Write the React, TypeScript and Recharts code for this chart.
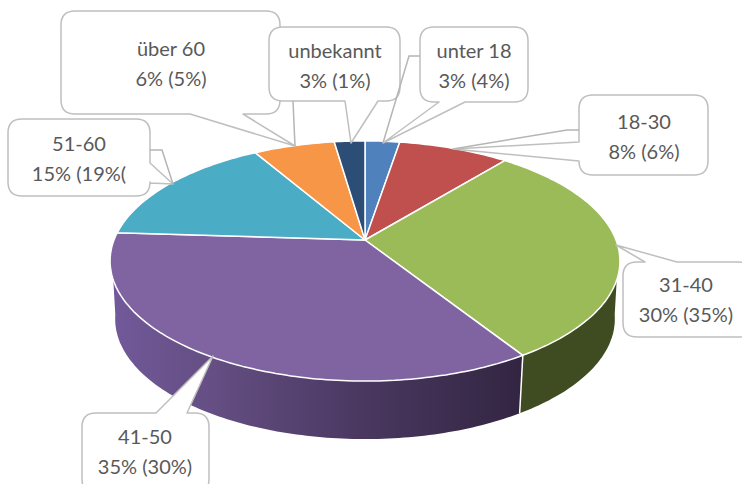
import { PieChart, Pie } from 'recharts'

const ageGroups = ['unter 18', '18-30', '31-40', '41-50', '51-60', 'über 60', 'unbekannt']
const shares = [2.6, 8.3, 30.1, 35, 15.6, 6.1, 2.3]
const shareLabels = ['3% (4%)', '8% (6%)', '30% (35%)', '35% (30%)', '15% (19%(', '6% (5%)', '3% (1%)']
const topColors = ['#4f81bd', '#c0504d', '#9bbb59', '#8064a2', '#4bacc6', '#f79646', '#2c4d75']
const wallColors = ['#2f4d71', '#732f2e', '#3f4c22', 'url(#purpleWall)', '#2d6776', '#94592a', '#1a2e46']

const tableData = ageGroups.map((name, i) => ({ name, value: shares[i], fill: topColors[i], label: shareLabels[i] }))
const wallData = ageGroups.map((name, i) => ({ name, value: shares[i], fill: wallColors[i] }))

// callout layout, same order as ageGroups
const callouts = [
  { x: 420, y: 27, w: 108, h: 75, side: 'bottom', a: 465, b: 439, tip: [383, 143], tx: 474, ty: 51, extra: '420,56 409,56 383,143' },
  { x: 579, y: 95, w: 129, h: 80, side: 'left', a: 161, b: 142, tip: [453, 149], tx: 644, ty: 122, extra: '579,130 567,130 453,149' },
  { x: 623, y: 262, w: 130, h: 75, side: 'top', a: 645, b: 677, tip: [616, 245], tx: 686, ty: 285 },
  { x: 82, y: 413, w: 127, h: 80, side: 'top', a: 156, b: 187, tip: [213, 356], tx: 145, ty: 437 },
  { x: 8, y: 119, w: 142, h: 77, side: 'right', a: 163, b: 183, tip: [173, 184], tx: 79, ty: 144, extra: '150,150 162,150 173,184' },
  { x: 61, y: 11, w: 219, h: 103, side: 'bottom', a: 243, b: 190, tip: [295, 146], tx: 171, ty: 49 },
  { x: 269, y: 27, w: 131, h: 74, side: 'bottom', a: 378, b: 345, tip: [351, 143], tx: 335, ty: 51, extra: '293,101 295,146' },
]

// the disc is seen in perspective, so its centre sits above the middle of the ellipse
const TILT = 0.175
const SQUASH = 0.4637
const DEPTH = 58
const WALL_FROM = 109
const WALL_TO = 251

function project(cx: number, cy: number, r: number, deg: number) {
  const t = (deg * Math.PI) / 180
  const u = Math.sin(t)
  const v = -Math.cos(t)
  const w = 1 - TILT * v
  return [cx + (r * u) / w, cy + (r * SQUASH * v) / w]
}

function lower(cx: number, p: number[]) {
  return [cx + (p[0] - cx) * 0.98, p[1] + DEPTH]
}

function rimPoints(cx: number, cy: number, r: number, from: number, to: number) {
  const pts = []
  const steps = Math.max(2, Math.ceil(to - from))
  for (let i = 0; i <= steps; i++) pts.push(project(cx, cy, r, from + ((to - from) * i) / steps))
  return pts
}

function toPath(pts: number[][]) {
  return 'M' + pts.map((p) => `${p[0].toFixed(1)},${p[1].toFixed(1)}`).join('L') + 'Z'
}

function TopSlice(props: any) {
  const { cx, cy, outerRadius, startAngle, endAngle, fill } = props
  const pts = [[cx, cy], ...rimPoints(cx, cy, outerRadius, 90 - startAngle, 90 - endAngle)]
  return <path d={toPath(pts)} fill={fill} stroke="#fff" strokeWidth={1.5} strokeLinejoin="round" />
}

function WallSlice(props: any) {
  const { cx, cy, outerRadius, startAngle, endAngle, fill } = props
  const t1 = 90 - startAngle
  const t2 = 90 - endAngle
  const from = Math.max(t1, WALL_FROM)
  const to = Math.min(t2, WALL_TO)
  if (to <= from) return null
  const top = rimPoints(cx, cy, outerRadius, from, to)
  // the lower rim runs on to its own widest point past the top edge of the wall
  const bottomFrom = from === WALL_FROM ? 98 : from
  const bottomTo = to === WALL_TO ? 262 : to
  const bottom = rimPoints(cx, cy, outerRadius, bottomFrom, bottomTo)
    .map((p) => lower(cx, p))
    .reverse()
  const seam = from === t1 ? [top[0], lower(cx, top[0])] : null
  return (
    <g>
      <path d={toPath([...top, ...bottom])} fill={fill} />
      {seam && (
        <line x1={seam[0][0]} y1={seam[0][1]} x2={seam[1][0]} y2={seam[1][1]} stroke="#fff" strokeWidth={1.5} />
      )}
    </g>
  )
}

function calloutPath(c: any) {
  const r = 14
  const { x, y, w, h, side, a, b, tip } = c
  const x2 = x + w
  const y2 = y + h
  const wedge = (s: string, p: string, q: string) => (side === s ? `L${p}L${tip[0]},${tip[1]}L${q}` : '')
  return [
    `M${x + r},${y}`,
    wedge('top', `${a},${y}`, `${b},${y}`),
    `L${x2 - r},${y}Q${x2},${y} ${x2},${y + r}`,
    wedge('right', `${x2},${a}`, `${x2},${b}`),
    `L${x2},${y2 - r}Q${x2},${y2} ${x2 - r},${y2}`,
    wedge('bottom', `${a},${y2}`, `${b},${y2}`),
    `L${x + r},${y2}Q${x},${y2} ${x},${y2 - r}`,
    wedge('left', `${x},${a}`, `${x},${b}`),
    `L${x},${y + r}Q${x},${y} ${x + r},${y}Z`,
  ].join('')
}

function renderCallout(props: any) {
  const c = callouts[props.index]
  return (
    <g key={props.index}>
      <path d={calloutPath(c)} fill="#fff" stroke="#bfbfbf" strokeWidth={1.5} strokeLinejoin="round" />
      <text textAnchor="middle" fontFamily="Lato" fontSize={20} fill="#595959">
        <tspan x={c.tx} y={c.ty + 7}>{ageGroups[props.index]}</tspan>
        <tspan x={c.tx} y={c.ty + 37}>{shareLabels[props.index]}</tspan>
      </text>
    </g>
  )
}

// second leader strokes lie over the neighbouring boxes
function renderExtraLeader(props: any) {
  const c = callouts[props.index]
  if (!c.extra) return <g key={props.index} />
  return <polyline key={props.index} points={c.extra} fill="none" stroke="#b5b5b5" strokeWidth={1.5} />
}

const noShape = () => null

export default function App() {
  return (
    <div style={{ position: 'absolute', left: 0, top: 0, width: 742, height: 484, overflow: 'hidden' }}>
      <PieChart width={742} height={484} margin={{ top: 0, right: 0, bottom: 0, left: 0 }}>
        <defs>
          <linearGradient id="purpleWall" gradientUnits="userSpaceOnUse" x1={112} y1={0} x2={524} y2={0}>
            <stop offset="0%" stopColor="#72599a" />
            <stop offset="25%" stopColor="#644e82" />
            <stop offset="60%" stopColor="#4a3861" />
            <stop offset="100%" stopColor="#322541" />
          </linearGradient>
        </defs>
        <Pie
          data={wallData}
          dataKey="value"
          cx={365}
          cy={240}
          outerRadius={251}
          startAngle={90}
          endAngle={-270}
          shape={WallSlice}
          isAnimationActive={false}
        />
        <Pie
          data={tableData}
          dataKey="value"
          cx={365}
          cy={240}
          outerRadius={251}
          startAngle={90}
          endAngle={-270}
          shape={TopSlice}
          label={renderCallout}
          labelLine={false}
          isAnimationActive={false}
        />
        <Pie
          data={tableData}
          dataKey="value"
          cx={365}
          cy={240}
          outerRadius={251}
          startAngle={90}
          endAngle={-270}
          shape={noShape}
          label={renderExtraLeader}
          labelLine={false}
          isAnimationActive={false}
        />
      </PieChart>
    </div>
  )
}
